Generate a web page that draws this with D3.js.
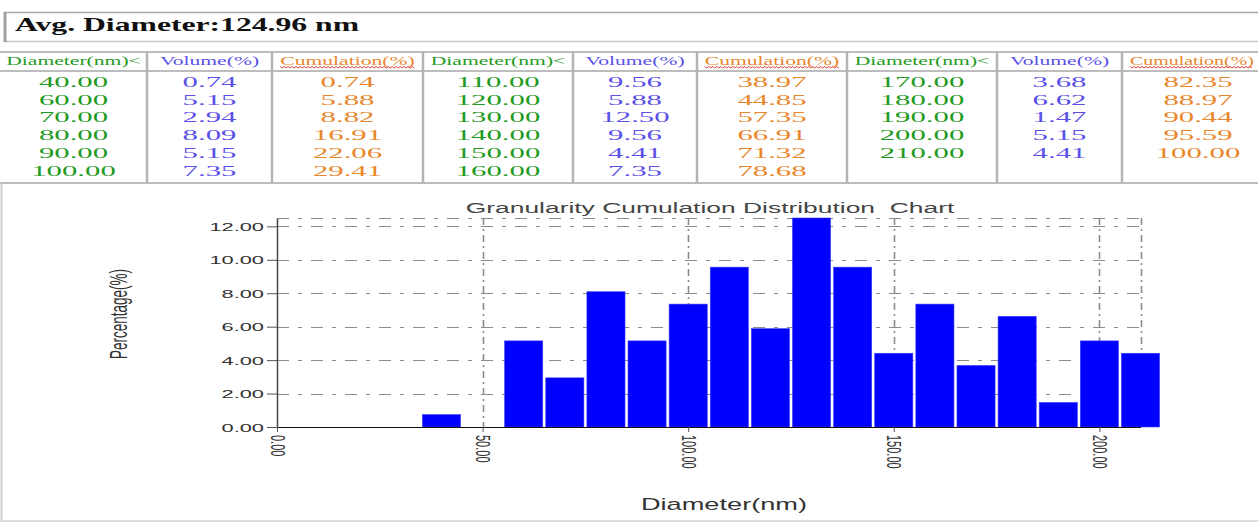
<!DOCTYPE html>
<html>
<head>
<meta charset="utf-8">
<script src="https://cdn.jsdelivr.net/npm/d3@7"></script>
<style>
  html, body { margin: 0; padding: 0; background: #fff; }
  svg { display: block; }
  text { white-space: pre; }
</style>
</head>
<body>
<script>
// ---- data ----
const avgDiameter = "124.96";
const diameters = [40, 60, 70, 80, 90, 100, 110, 120, 130, 140, 150, 160, 170, 180, 190, 200, 210];
const volumes = [0.74, 5.15, 2.94, 8.09, 5.15, 7.35, 9.56, 5.88, 12.50, 9.56, 4.41, 7.35, 3.68, 6.62, 1.47, 5.15, 4.41];
const cumulations = [0.74, 5.88, 8.82, 16.91, 22.06, 29.41, 38.97, 44.85, 57.35, 66.91, 71.32, 78.68, 82.35, 88.97, 90.44, 95.59, 100.00];
const tableHeaders = ["Diameter(nm)<", "Volume(%)", "Cumulation(%)"];
const groupSizes = [6, 6, 5];
const yTicks = [0, 2, 4, 6, 8, 10, 12];
const xTicks = [0, 50, 100, 150, 200];
const chartTitle = "Granularity Cumulation Distribution  Chart";
const xTitle = "Diameter(nm)";
const yTitle = "Percentage(%)";

const W = 1258, H = 523;
const SERIF = "'Liberation Serif', 'Times New Roman', serif";
const SANS = "'Liberation Sans', Arial, sans-serif";
const colColors = ["#1f9a23", "#5a50e8", "#e8872c"];

const svg = d3.select("body").append("svg").attr("width", W).attr("height", H);

// text drawn with a horizontal stretch
function stext(g, o) {
  let t = `translate(${o.x},${o.y}) scale(${o.sx || 1},1)`;
  if (o.rotate) t += ` rotate(${o.rotate})`;
  return g.append("text")
    .attr("transform", t)
    .attr("text-anchor", o.anchor || "start")
    .attr("dy", o.dy || null)
    .attr("font-family", o.family || SANS)
    .attr("font-size", o.size)
    .attr("font-weight", o.weight || "normal")
    .attr("fill", o.fill || "#333")
    .text(o.text);
}

// ---- average diameter box ----
const header = svg.append("g");
header.append("line").attr("x1", 4).attr("x2", W).attr("y1", 12.5).attr("y2", 12.5).attr("stroke", "#a8a8a8").attr("stroke-width", 1.5);
header.append("line").attr("x1", 4).attr("x2", W).attr("y1", 41.5).attr("y2", 41.5).attr("stroke", "#c8c8c8").attr("stroke-width", 1.5);
header.append("line").attr("x1", 5).attr("x2", 5).attr("y1", 12).attr("y2", 42).attr("stroke", "#a0a0a0").attr("stroke-width", 3);
stext(header, { x: 15, y: 31, sx: 1.76, text: `Avg. Diameter:${avgDiameter} nm`, size: 18, weight: "bold", family: SERIF, fill: "#111" });

// ---- data table ----
const colEdges = [0, 147, 272, 423, 573, 697, 847, 997, 1122, 1274];
const tbl = svg.append("g");
const lineCol = "#bdbdbd";
[52, 71, 183].forEach(yv => {
  tbl.append("line").attr("x1", 0).attr("x2", W).attr("y1", yv).attr("y2", yv)
    .attr("stroke", lineCol).attr("stroke-width", 2);
});
colEdges.slice(1, -1).forEach(xv => {
  tbl.append("line").attr("x1", xv).attr("x2", xv).attr("y1", 52).attr("y2", 183)
    .attr("stroke", "#b4b4b4").attr("stroke-width", 2.5);
});

let start = 0;
groupSizes.forEach((n, gi) => {
  const rows = d3.range(start, start + n);
  [0, 1, 2].forEach(ci => {
    const c = gi * 3 + ci;
    const cx = (colEdges[c] + colEdges[c + 1]) / 2;
    // the last column is squeezed a little so its header stays inside the page
    const lastCol = c === colEdges.length - 2;
    const hx = lastCol ? colEdges[c] + 8 : cx;
    const hsx = lastCol ? 1.66 : 1.8;
    const h = stext(tbl, { x: hx, y: 65, sx: hsx, text: tableHeaders[ci], size: 12, family: SERIF, fill: colColors[ci], anchor: lastCol ? "start" : "middle" });
    if (ci === 2) {
      // spelling squiggle under the header
      const bb = h.node().getBBox();
      const wdt = bb.width * hsx;
      const x0 = lastCol ? hx : cx - wdt / 2, x1 = Math.min(W, x0 + wdt);
      const pts = d3.range(x0, x1, 2).map((xv, i) => [xv, 67 + (i % 2 ? 1 : -0.5)]);
      tbl.append("path").attr("d", d3.line()(pts)).attr("fill", "none").attr("stroke", "#e0302a").attr("stroke-width", 0.9);
    }
    const vals = ci === 0 ? rows.map(i => diameters[i].toFixed(2))
               : ci === 1 ? rows.map(i => volumes[i].toFixed(2))
               : rows.map(i => cumulations[i].toFixed(2));
    vals.forEach((v, ri) => {
      stext(tbl, { x: cx, y: 87 + ri * 17.7, sx: 2.05, text: v, size: 15, family: SERIF, fill: colColors[ci], anchor: "middle" });
    });
  });
  start += n;
});

// chart panel frame
svg.append("line").attr("x1", 1.5).attr("x2", 1.5).attr("y1", 183).attr("y2", 521).attr("stroke", "#cfcfcf").attr("stroke-width", 2);
svg.append("line").attr("x1", 0).attr("x2", W).attr("y1", 521).attr("y2", 521).attr("stroke", "#dcdcdc").attr("stroke-width", 2);

// ---- histogram ----
const x = d3.scaleLinear().domain([0, 210]).range([277, 1140.5]);
const y = d3.scaleLinear().domain([0, 12.5]).range([427, 218]);
const plot = svg.append("g");
const gridCol = "#8c8c8c";

// horizontal grid
plot.selectAll("line.hg").data(yTicks.filter(d => d > 0).concat([12.5])).join("line")
  .attr("x1", x(0)).attr("x2", x(210))
  .attr("y1", d => Math.round(y(d)) + 0.5).attr("y2", d => Math.round(y(d)) + 0.5)
  .attr("stroke", gridCol).attr("stroke-width", 1.2)
  .attr("stroke-dasharray", "12,9,4,9");

// vertical grid
plot.selectAll("line.vg").data(xTicks.filter(d => d > 0).concat([210])).join("line")
  .attr("x1", d => Math.round(x(d)) + 0.5).attr("x2", d => Math.round(x(d)) + 0.5)
  .attr("y1", y(12.5)).attr("y2", y(0))
  .attr("stroke", gridCol).attr("stroke-width", 1.6)
  .attr("stroke-dasharray", "7,4,2,4");

// bars
const binHalf = 5;
plot.selectAll("rect.bar").data(diameters.map((d, i) => ({ d, v: volumes[i] }))).join("rect")
  .attr("x", b => x(b.d - binHalf) + 1.5)
  .attr("width", b => x(b.d + binHalf) - x(b.d - binHalf) - 3)
  .attr("y", b => y(b.v))
  .attr("height", b => y(0) - y(b.v))
  .attr("fill", "#0000ff")
  .attr("stroke", "#3a3aff").attr("stroke-width", 0.6);

// y axis
const yAxis = svg.append("g").attr("transform", `translate(${x(0)},0)`)
  .call(d3.axisLeft(y).tickValues(yTicks).tickFormat(d3.format(".2f")).tickSize(10).tickSizeOuter(0));
yAxis.select(".domain").attr("stroke", "#444").attr("stroke-width", 1.5);
yAxis.selectAll(".tick line").attr("stroke", "#555");
yAxis.selectAll(".tick text")
  .attr("x", null).attr("dy", null)
  .attr("transform", "translate(-13,4) scale(1.9,1)")
  .attr("font-family", SANS).attr("font-size", 11.5).attr("fill", "#333");

// x axis
const xAxis = svg.append("g").attr("transform", `translate(0,${y(0)})`)
  .call(d3.axisBottom(x).tickValues(xTicks).tickFormat(d3.format(".2f")).tickSize(5).tickSizeOuter(0));
xAxis.select(".domain").attr("stroke", "#111").attr("stroke-width", 1.2);
xAxis.selectAll(".tick line").attr("stroke", "#555");
xAxis.selectAll(".tick text")
  .attr("y", null).attr("dy", "0.35em")
  .attr("text-anchor", "start")
  .attr("transform", "translate(0,8) scale(1.8,1) rotate(90)")
  .attr("font-family", SANS).attr("font-size", 11).attr("fill", "#333");
xAxis.attr("font-size", null);
yAxis.attr("font-size", null);

// titles
stext(svg, { x: 710, y: 213, sx: 1.76, text: chartTitle, size: 15, fill: "#444", anchor: "middle" });
stext(svg, { x: 724, y: 510, sx: 1.7, text: xTitle, size: 16, fill: "#333", anchor: "middle" });
stext(svg, { x: 127, y: 314, sx: 1.8, rotate: -90, text: yTitle, size: 13.5, fill: "#333", anchor: "middle" });
</script>
</body>
</html>
